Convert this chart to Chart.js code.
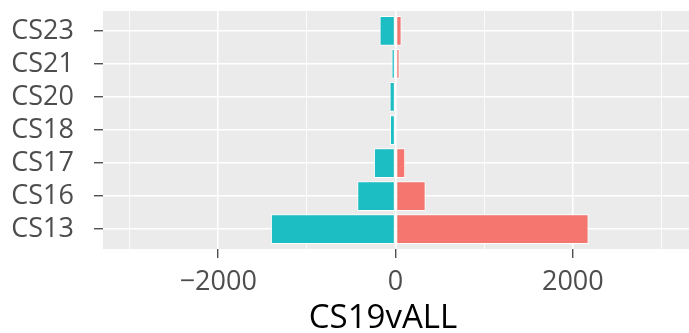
<!DOCTYPE html>
<html>
<head>
<meta charset="utf-8">
<script src="https://cdn.jsdelivr.net/npm/chart.js@4/dist/chart.umd.min.js"></script>
<style>
  html, body { margin: 0; padding: 0; background: #ffffff; }
  canvas { display: block; }
</style>
</head>
<body>
<canvas id="c" width="689" height="333"></canvas>
<script>
// Categories, bottom to top
const categories = ['CS13', 'CS16', 'CS17', 'CS18', 'CS20', 'CS21', 'CS23'];
// Left-hand (negative) counts
const downValues = [-1406, -432, -244, -63, -67, -45, -180];
// Right-hand (positive) counts
const upValues = [2177, 339, 109, null, null, 45, 68];
// x grid positions; only the labelled ones get text and tick marks
const xGridValues = [-3000, -2000, -1000, 0, 1000, 2000, 3000];
const xTickLabels = [-2000, 0, 2000];
const axisTitle = 'CS19vALL';

const FONT = "'Open Sans', 'DejaVu Sans', sans-serif";

const toPoints = arr => arr.map((v, i) => (v === null ? null : { x: v, y: i }))
  .filter(p => p !== null);

// Grey panel behind the plot area
const panelBg = {
  id: 'panelBg',
  beforeDraw(chart) {
    const { ctx, chartArea: a } = chart;
    ctx.save();
    ctx.fillStyle = '#EBEBEB';
    ctx.fillRect(a.left, a.top, a.right - a.left, a.bottom - a.top);
    ctx.restore();
  }
};

// Axis title under the x labels
const xTitle = {
  id: 'xTitle',
  afterDraw(chart) {
    const { ctx } = chart;
    ctx.save();
    ctx.font = '33px ' + FONT;
    ctx.fillStyle = '#000000';
    ctx.textAlign = 'center';
    ctx.textBaseline = 'alphabetic';
    ctx.fillText(axisTitle, 383, 328);
    ctx.restore();
  }
};

const isMajor = v => xTickLabels.includes(v);

new Chart(document.getElementById('c'), {
  type: 'bar',
  data: {
    datasets: [
      {
        label: 'down',
        data: toPoints(downValues),
        backgroundColor: '#1CBEC4',
        borderColor: '#ffffff',
        borderWidth: 1,
        borderSkipped: false,
        barPercentage: 0.9,
        categoryPercentage: 1
      },
      {
        label: 'up',
        data: toPoints(upValues),
        backgroundColor: '#F5766F',
        borderColor: '#ffffff',
        borderWidth: 1,
        borderSkipped: false,
        barPercentage: 0.9,
        categoryPercentage: 1
      }
    ]
  },
  options: {
    indexAxis: 'y',
    responsive: false,
    animation: false,
    layout: { padding: { top: 11, right: 0, left: 0, bottom: 0 } },
    plugins: {
      legend: { display: false },
      tooltip: { enabled: false }
    },
    scales: {
      x: {
        type: 'linear',
        stacked: true,
        offset: false,
        min: -3300,
        max: 3310,
        border: { display: false },
        grid: {
          offset: false,
          color: '#ffffff',
          lineWidth: ctx => (isMajor(ctx.tick && ctx.tick.value) ? 1.5 : 0.8),
          drawTicks: true,
          tickLength: 9,
          tickWidth: 1.2,
          tickColor: ctx => (isMajor(ctx.tick && ctx.tick.value) ? '#333333' : 'rgba(0,0,0,0)')
        },
        ticks: {
          autoSkip: false,
          maxRotation: 0,
          minRotation: 0,
          padding: 8,
          color: '#4D4D4D',
          font: { family: FONT, size: 27 },
          callback: v => (isMajor(v) ? (v < 0 ? '\u2212' + Math.abs(v) : String(v)) : '')
        },
        afterBuildTicks: s => { s.ticks = xGridValues.map(v => ({ value: v })); },
        afterFit: s => { s.height = 84; s.paddingLeft = 0; s.paddingRight = 0; }
      },
      y: {
        type: 'linear',
        stacked: true,
        offset: false,
        min: -0.6,
        max: 6.6,
        border: { display: false },
        grid: {
          offset: false,
          color: '#ffffff',
          lineWidth: 1.5,
          drawTicks: true,
          tickLength: 9,
          tickWidth: 1.2,
          tickColor: '#333333'
        },
        ticks: {
          autoSkip: false,
          padding: 20,
          color: '#4D4D4D',
          font: { family: FONT, size: 27 },
          callback: v => categories[v] || ''
        },
        afterBuildTicks: s => { s.ticks = categories.map((c, i) => ({ value: i })); },
        afterFit: s => { s.width = 103; s.paddingTop = 0; s.paddingBottom = 0; }
      }
    }
  },
  plugins: [panelBg, xTitle]
});
</script>
</body>
</html>
